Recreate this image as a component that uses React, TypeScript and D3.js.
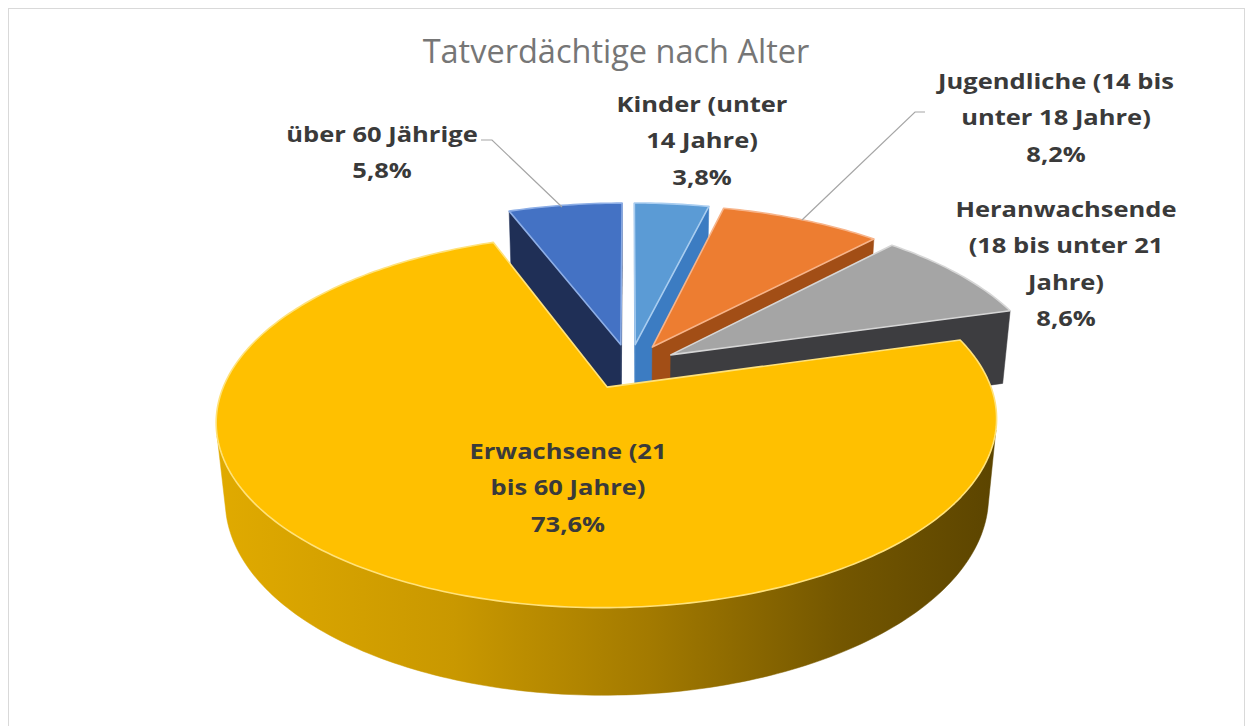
import React from 'react'
import * as d3 from 'd3'

const width = 1252
const height = 726

// data
const categories = [
  'Kinder (unter 14 Jahre)',
  'Jugendliche (14 bis unter 18 Jahre)',
  'Heranwachsende (18 bis unter 21 Jahre)',
  'Erwachsene (21 bis 60 Jahre)',
  'über 60 Jährige',
]
const shares = [3.8, 8.2, 8.6, 73.6, 5.8]
const shareLabels = ['3,8%', '8,2%', '8,6%', '73,6%', '5,8%']
const labelLines = [
  ['Kinder (unter', '14 Jahre)'],
  ['Jugendliche (14 bis', 'unter 18 Jahre)'],
  ['Heranwachsende', '(18 bis unter 21', 'Jahre)'],
  ['Erwachsene (21', 'bis 60 Jahre)'],
  ['über 60 Jährige'],
]
const title = 'Tatverdächtige nach Alter'

const topColors = ['#5B9BD5', '#ED7D31', '#A5A5A5', '#FFC000', '#4472C4']
const sideColors = ['#3C7CC2', '#A24E16', '#3D3D40', 'url(#goldSide)', '#1F2F56']
const edgeColors = ['#A9CDF0', '#F7B48A', '#D6D6D6', '#FFE27A', '#8DAEE6']

// label placement (center x, first baseline)
const labelPos = [
  [702, 112],
  [1056, 89],
  [1066, 217],
  [568, 459],
  [382, 142],
]
const lineStep = 36.5

// 3d view
const R = 376
const tilt = (27.5 * Math.PI) / 180
const camDist = 5.04
const cx = 629.5
const cy = 366.5
const thick = 0.232
const explode = 0.13

const sinT = Math.sin(tilt)
const cosT = Math.cos(tilt)
const cam = { u: 0, w: -camDist * cosT }

function project(u: number, w: number, h: number): [number, number] {
  const Y = w * sinT + h * cosT
  const Z = w * cosT - h * sinT
  const s = 1 / (1 + Z / camDist)
  return [cx + R * u * s, cy - R * Y * s]
}

const poly = d3.line().curve(d3.curveLinearClosed)

function App() {
  const arcs = d3.pie<number>().sort(null).value((d) => d)(shares)

  const slices = arcs.map((a, i) => {
    const mid = (a.startAngle + a.endAngle) / 2
    const ou = explode * Math.sin(mid)
    const ow = explode * Math.cos(mid)
    const rim = (t: number, h: number) => project(ou + Math.sin(t), ow + Math.cos(t), h)
    const ctr = (h: number) => project(ou, ow, h)

    const steps = Math.max(4, Math.ceil(((a.endAngle - a.startAngle) * 180) / Math.PI))
    const angles = d3.range(steps + 1).map((k) => a.startAngle + ((a.endAngle - a.startAngle) * k) / steps)

    const top = [ctr(0), ...angles.map((t) => rim(t, 0))]

    const faces: { d: string; fill: string }[] = []

    // radial faces
    const n0 = [-Math.cos(a.startAngle), Math.sin(a.startAngle)]
    const n1 = [Math.cos(a.endAngle), -Math.sin(a.endAngle)]
    const toCam = [cam.u - ou, cam.w - ow]
    if (toCam[0] * n0[0] + toCam[1] * n0[1] > 0) {
      faces.push({
        d: poly([ctr(0), rim(a.startAngle, 0), rim(a.startAngle, -thick), ctr(-thick)]) as string,
        fill: sideColors[i],
      })
    }
    if (toCam[0] * n1[0] + toCam[1] * n1[1] > 0) {
      faces.push({
        d: poly([ctr(0), rim(a.endAngle, 0), rim(a.endAngle, -thick), ctr(-thick)]) as string,
        fill: sideColors[i],
      })
    }

    // outer curved face, only the part that faces the camera
    const vis = angles.filter((t) => {
      const pu = ou + Math.sin(t)
      const pw = ow + Math.cos(t)
      return (cam.u - pu) * Math.sin(t) + (cam.w - pw) * Math.cos(t) > 0
    })
    if (vis.length > 1) {
      const pts = [...vis.map((t) => rim(t, 0)), ...vis.slice().reverse().map((t) => rim(t, -thick))]
      faces.push({ d: poly(pts) as string, fill: sideColors[i] })
    }

    return { i, depth: ow, top: poly(top) as string, faces }
  })

  // far slices first
  const order = slices.slice().sort((a, b) => b.depth - a.depth)

  return (
    <svg width={width} height={height} style={{ position: 'absolute', left: 0, top: 0, background: '#fff' }}>
      <defs>
        <linearGradient id="goldSide" gradientUnits="userSpaceOnUse" x1={220} y1={0} x2={1000} y2={0}>
          <stop offset="0" stopColor="#E0AA00" />
          <stop offset="0.3" stopColor="#C99800" />
          <stop offset="0.55" stopColor="#A37A00" />
          <stop offset="0.8" stopColor="#735600" />
          <stop offset="1" stopColor="#5B4400" />
        </linearGradient>
      </defs>
      <rect x={8.5} y={8.5} width={1236} height={740} fill="#fff" stroke="#D9D9D9" strokeWidth={1} />

      <text x={616} y={63} textAnchor="middle" fontFamily="'Open Sans', sans-serif" fontSize={32.5} fill="#767676">
        {title}
      </text>

      {order.map((s) => (
        <g key={categories[s.i]}>
          {s.faces.map((f, k) => (
            <path key={k} d={f.d} fill={f.fill} stroke={f.fill} strokeWidth={0.5} strokeLinejoin="round" />
          ))}
          <path d={s.top} fill={topColors[s.i]} stroke={edgeColors[s.i]} strokeWidth={1.6} strokeLinejoin="round" />
        </g>
      ))}

      {/* leader lines */}
      <path d="M481,140 L492,140 L562,207" fill="none" stroke="#A6A6A6" strokeWidth={1.2} />
      <path d="M925,112 L915,112 L802,220" fill="none" stroke="#A6A6A6" strokeWidth={1.2} />

      {labelLines.map((lines, i) => (
        <text
          key={categories[i]}
          transform={`translate(${labelPos[i][0]},0) scale(1.16,1)`}
          textAnchor="middle"
          fontFamily="'Open Sans', sans-serif"
          fontWeight={700}
          fontSize={22}
          fill="#3A3A3A"
        >
          {[...lines, shareLabels[i]].map((l, k) => (
            <tspan key={k} x={0} y={labelPos[i][1] + k * lineStep}>
              {l}
            </tspan>
          ))}
        </text>
      ))}
    </svg>
  )
}

export default App
